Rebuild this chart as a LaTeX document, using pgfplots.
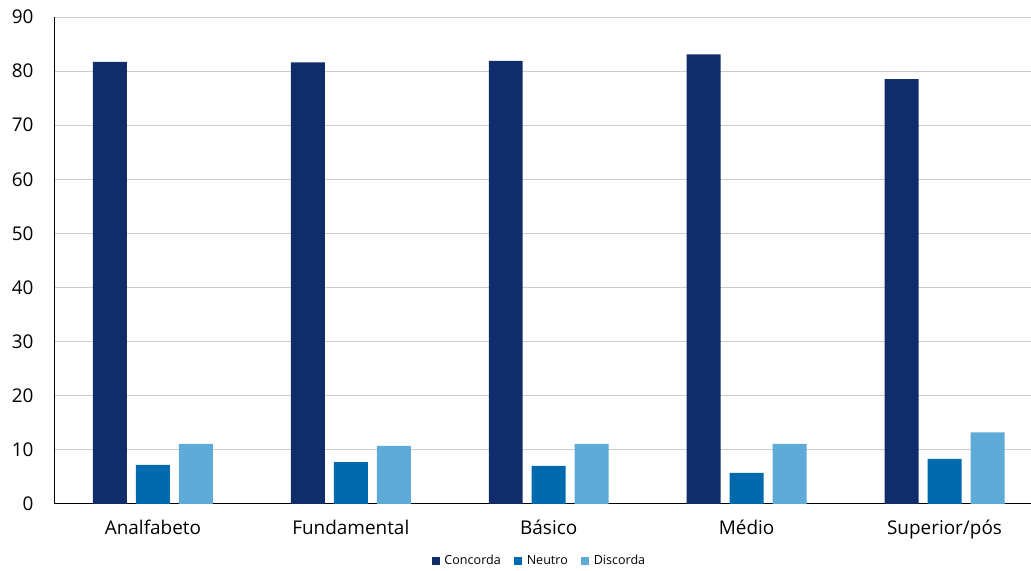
\documentclass[border=0pt]{standalone}
\usepackage{fontspec}
\setmainfont{Open Sans}
\usepackage{pgfplots}
\pgfplotsset{compat=1.18}
\definecolor{cConc}{HTML}{102D69}
\definecolor{cNeu}{HTML}{006AAD}
\definecolor{cDis}{HTML}{5DABD6}
\begin{document}
\begin{tikzpicture}
\begin{axis}[
  scale only axis, width=977bp, height=487bp,
  xmin=-0.5, xmax=4.435, ymin=0, ymax=90,
  ytick={0,10,...,90},
  xtick={0,1,2,3,4},
  xticklabels={Analfabeto,Fundamental,Básico,Médio,Superior/pós},
  axis x line*=bottom, axis y line*=left,
  axis line style={black, line width=0.8pt, -},
  major tick length=0pt,
  ymajorgrids, grid style={gray!40, line width=0.8pt},
  ybar=9bp, bar width=34bp,
  tick label style={font=\fontsize{19}{21}\selectfont},
  /pgf/number format/assume math mode=true,
  yticklabel style={xshift=-17bp},
  xticklabel style={yshift=-13bp},
  legend style={at={(0.497,-0.117)}, anchor=center, draw=none, legend columns=3,
    font=\fontsize{12.6}{14}\selectfont,
    /tikz/every even column/.append style={column sep=11bp}},
  legend image code/.code={\fill[#1] (0bp,-4bp) rectangle (8bp,4bp); \path (11bp,0bp);},
]
\addplot[draw=none, fill=cConc] coordinates {(0,81.7) (1,81.6) (2,81.9) (3,83.1) (4,78.5)};
\addplot[draw=none, fill=cNeu] coordinates {(0,7.2) (1,7.7) (2,7.0) (3,5.7) (4,8.3)};
\addplot[draw=none, fill=cDis] coordinates {(0,11.1) (1,10.7) (2,11.1) (3,11.1) (4,13.2)};
\legend{Concorda,Neutro,Discorda}
\end{axis}
\path[use as bounding box] (-54bp,-63bp) rectangle (977bp,504bp);
\end{tikzpicture}
\end{document}
